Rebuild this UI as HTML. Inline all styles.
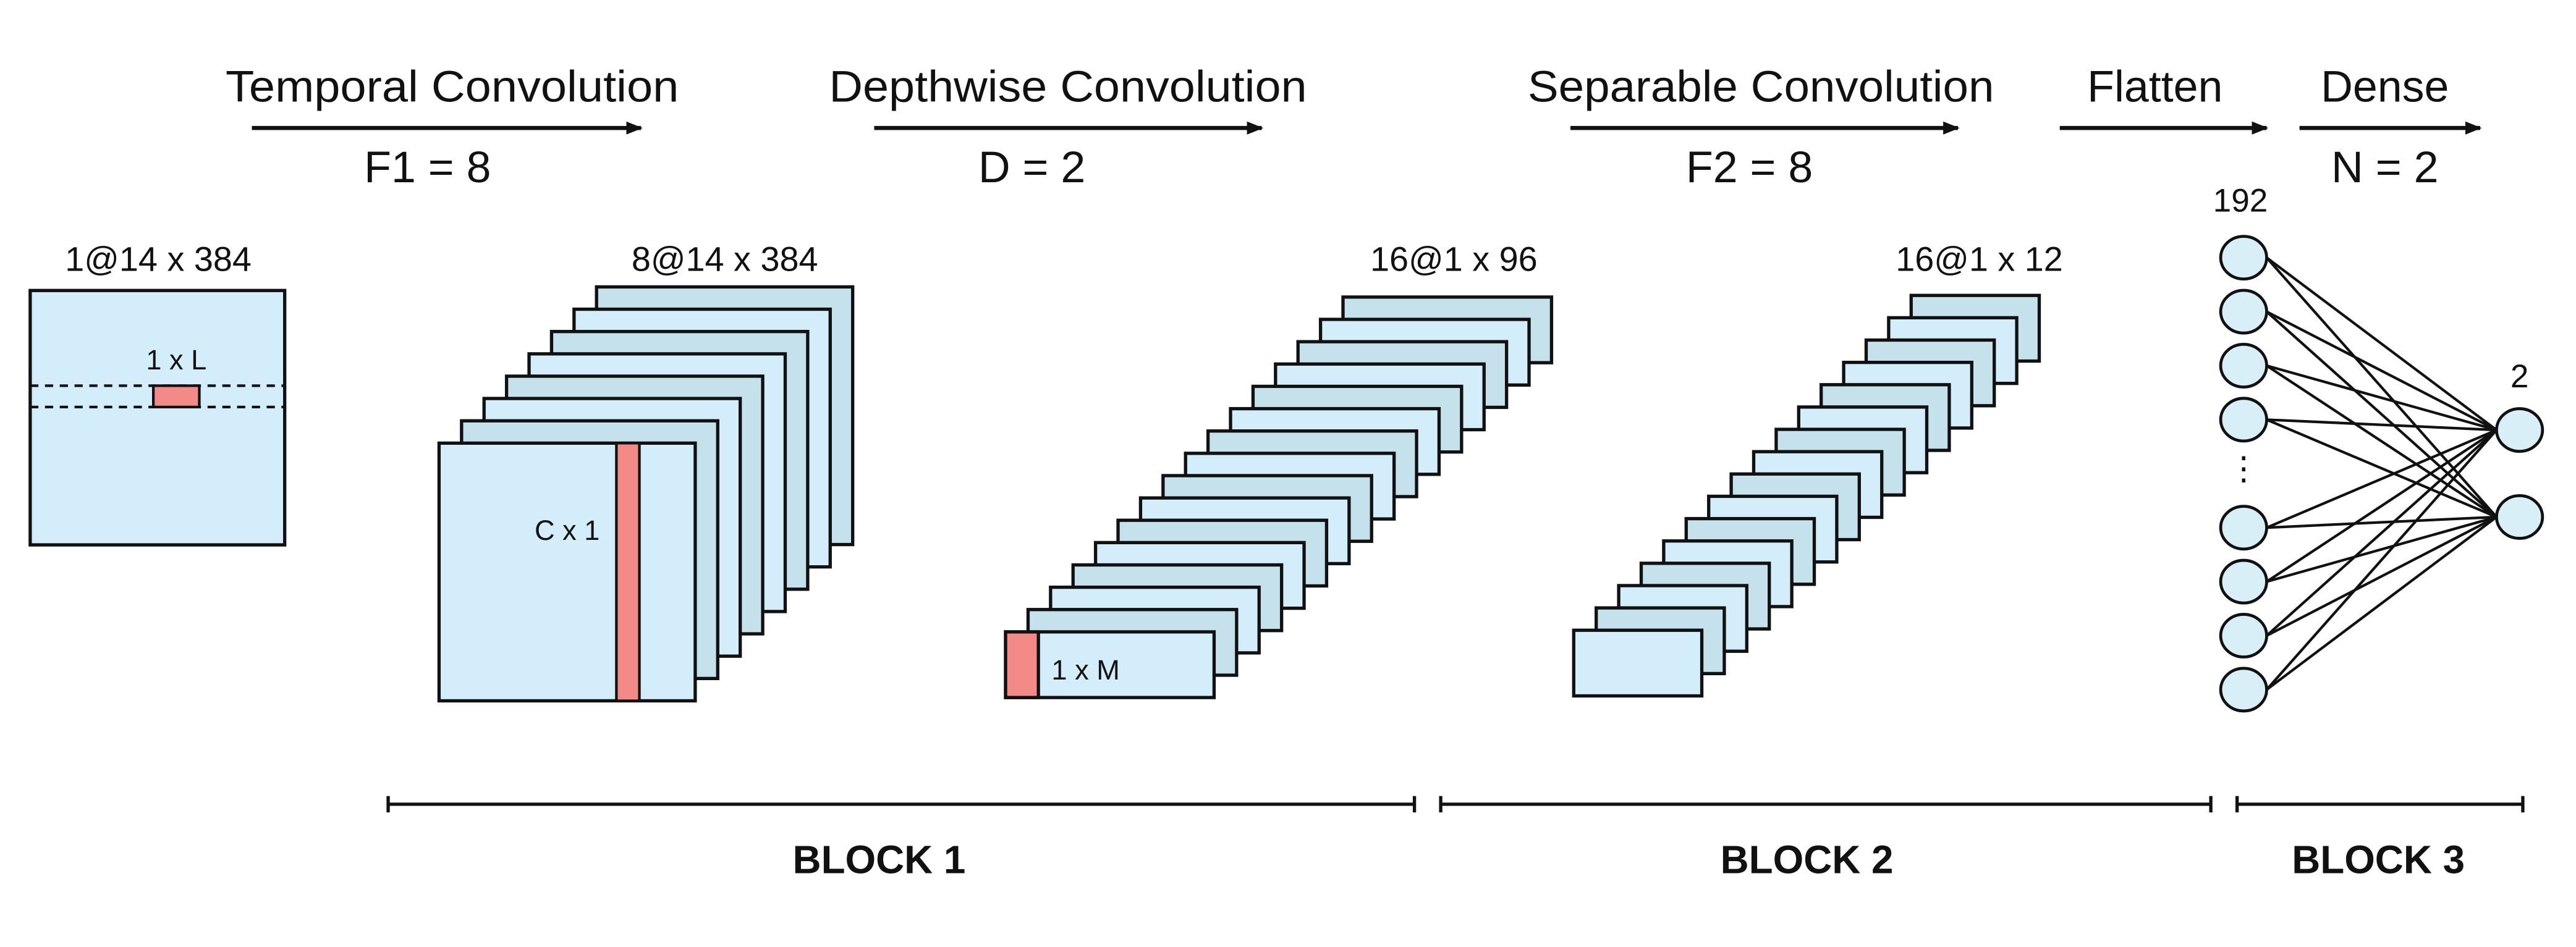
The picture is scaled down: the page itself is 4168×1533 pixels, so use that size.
<!DOCTYPE html>
<html><head><meta charset="utf-8"><style>
html,body{margin:0;padding:0;background:#fff}
svg{display:block}
text{font-family:"Liberation Sans",sans-serif;fill:#111}
</style></head><body>
<svg id="fig" width="4168" height="1533" viewBox="0 0 1568 577" xmlns="http://www.w3.org/2000/svg">
<defs><marker id="ah" viewBox="0 0 10 10" refX="9" refY="5" markerWidth="4" markerHeight="4" orient="auto"><path d="M0,1 L10,5 L0,9 z" fill="#111"/></marker></defs>
<g font-size="27">
<text x="275" y="62" text-anchor="middle" textLength="276" lengthAdjust="spacingAndGlyphs">Temporal Convolution</text>
<line x1="153" y1="78" x2="390" y2="78" stroke="#111" stroke-width="2.5" marker-end="url(#ah)"/>
<text x="260" y="111" text-anchor="middle">F1 = 8</text>
<text x="650" y="62" text-anchor="middle" textLength="291" lengthAdjust="spacingAndGlyphs">Depthwise Convolution</text>
<line x1="532" y1="78" x2="768" y2="78" stroke="#111" stroke-width="2.5" marker-end="url(#ah)"/>
<text x="628" y="111" text-anchor="middle">D = 2</text>
<text x="1072" y="62" text-anchor="middle" textLength="284" lengthAdjust="spacingAndGlyphs">Separable Convolution</text>
<line x1="956" y1="78" x2="1192" y2="78" stroke="#111" stroke-width="2.5" marker-end="url(#ah)"/>
<text x="1065" y="111" text-anchor="middle">F2 = 8</text>
<text x="1312" y="62" text-anchor="middle">Flatten</text>
<line x1="1254" y1="78" x2="1380" y2="78" stroke="#111" stroke-width="2.5" marker-end="url(#ah)"/>
<text x="1452" y="62" text-anchor="middle">Dense</text>
<line x1="1400" y1="78" x2="1510" y2="78" stroke="#111" stroke-width="2.5" marker-end="url(#ah)"/>
<text x="1452" y="111" text-anchor="middle">N = 2</text>
</g>
<g>
<text x="96" y="165" font-size="21" text-anchor="middle">1@14 x 384</text>
<rect x="18" y="177" width="155" height="155" fill="#d4edfa" stroke="#111" stroke-width="2"/>
<line x1="18" y1="235" x2="173" y2="235" stroke="#111" stroke-width="1.6" stroke-dasharray="5,4"/>
<line x1="18" y1="248" x2="173" y2="248" stroke="#111" stroke-width="1.6" stroke-dasharray="5,4"/>
<rect x="93" y="235" width="28" height="13" fill="#f28a87" stroke="#111" stroke-width="1.6"/>
<text x="107" y="225" font-size="17" text-anchor="middle">1 x L</text>
</g>
<g id="stacks"></g>
<g id="net"></g>
<g stroke="#111" stroke-width="2">
<path d="M236,485 V495 M236,490 H861 M861,485 V495" fill="none"/>
<path d="M877,485 V495 M877,490 H1346 M1346,485 V495" fill="none"/>
<path d="M1362,485 V495 M1362,490 H1536 M1536,485 V495" fill="none"/>
</g>
<g font-size="24" font-weight="bold">
<text x="535" y="532" text-anchor="middle">BLOCK 1</text>
<text x="1100" y="532" text-anchor="middle">BLOCK 2</text>
<text x="1448" y="532" text-anchor="middle">BLOCK 3</text>
</g>
</svg>
<script>
var NS="http://www.w3.org/2000/svg";
var stackCounts=[8,16,16];
var stackLabels=["8@14 x 384","16@1 x 96","16@1 x 12"];
var leftNeuronRows=[0,1,2,3,5,6,7,8];
var outputNeurons=[0,1];
var stackGeom=[
 {x:267,y:270,w:156,h:157,lx:441},
 {x:612,y:385,w:127,h:40,lx:885},
 {x:958,y:384,w:78,h:40,lx:1205}
];
var dx=13.7,dy=-13.6;
var sg=document.getElementById('stacks');
function mk(t,a){var e=document.createElementNS(NS,t);for(var k in a)e.setAttribute(k,a[k]);return e;}
stackCounts.forEach(function(n,si){
 var g=stackGeom[si];
 var grp=mk('g',{});
 
 
 for(var i=n-1;i>=0;i--){
  var r=mk('rect',{x:g.x+i*dx,y:g.y+i*dy,width:g.w,height:g.h,fill:(i%2? '#c5e1ec':'#d4edfa'),stroke:'#111','stroke-width':2});
  
  
  grp.appendChild(r);
 }
 var t=mk('text',{x:g.lx,y:165,'font-size':21,'text-anchor':'middle'});
 t.textContent=stackLabels[si];
 
 
 grp.appendChild(t);
 sg.appendChild(grp);
});
var k1=mk('rect',{x:375,y:270,width:14,height:157,fill:'#f28a87',stroke:'#111','stroke-width':1.6});


sg.appendChild(k1);
var t1=mk('text',{x:345,y:329,'font-size':17,'text-anchor':'middle'});t1.textContent='C x 1';


sg.appendChild(t1);
var k2=mk('rect',{x:612,y:385,width:20,height:40,fill:'#f28a87',stroke:'#111','stroke-width':2});


sg.appendChild(k2);
var t2=mk('text',{x:640,y:414,'font-size':17});t2.textContent='1 x M';


sg.appendChild(t2);
var net=document.getElementById('net');
function ly(r){return 157+r*32.9;}
function ry(o){return 262+o*53;}
leftNeuronRows.forEach(function(r){
 outputNeurons.forEach(function(o){
  var l=mk('line',{x1:1380,y1:ly(r),x2:1520,y2:ry(o),stroke:'#111','stroke-width':1.6});
  
  
  net.appendChild(l);
 });
});
leftNeuronRows.forEach(function(r){
 var c=mk('ellipse',{cx:1366,cy:ly(r),rx:14,ry:13,fill:'#d9eff8',stroke:'#111','stroke-width':1.8});
 
 
 net.appendChild(c);
});
outputNeurons.forEach(function(o){
 var c=mk('ellipse',{cx:1534,cy:ry(o),rx:14,ry:13,fill:'#d9eff8',stroke:'#111','stroke-width':1.8});
 
 
 net.appendChild(c);
});
var dots=mk('text',{x:1366,y:292,'font-size':20,'text-anchor':'middle'});dots.textContent='⋮';


net.appendChild(dots);
var n1=mk('text',{x:1364,y:129,'font-size':20,'text-anchor':'middle'});n1.textContent='192';


net.appendChild(n1);
var n2=mk('text',{x:1534,y:236,'font-size':20,'text-anchor':'middle'});n2.textContent='2';


net.appendChild(n2);
</script>
</body></html>
